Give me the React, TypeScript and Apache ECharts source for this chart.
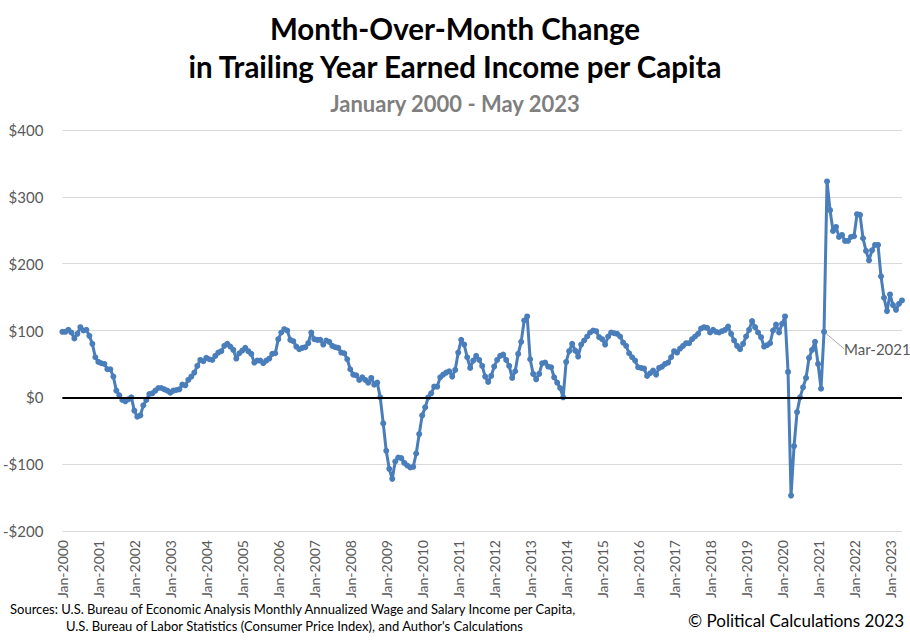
import React, { useEffect, useRef } from "react";
import * as echarts from "echarts";

const MONTHS = ["Jan", "Feb", "Mar", "Apr", "May", "Jun", "Jul", "Aug", "Sep", "Oct", "Nov", "Dec"];
const START_YEAR = 2000;

const v2000 = [98, 98, 101, 97, 88, 95, 105, 100, 101, 92, 80, 60];
const v2001 = [53, 51, 50, 42, 42, 31, 10, 3, -4, -6, -3, 0];
const v2002 = [-20, -29, -27, -12, -4, 5, 6, 10, 14, 14, 12, 10];
const v2003 = [7, 10, 11, 12, 19, 18, 26, 31, 37, 47, 56, 54];
const v2004 = [59, 57, 56, 62, 67, 69, 77, 80, 76, 71, 58, 66];
const v2005 = [70, 74, 69, 65, 52, 55, 55, 51, 55, 58, 65, 66];
const v2006 = [87, 97, 102, 100, 86, 84, 76, 72, 74, 75, 81, 97];
const v2007 = [87, 86, 86, 79, 85, 83, 77, 75, 74, 67, 66, 57];
const v2008 = [42, 34, 33, 26, 30, 26, 22, 29, 19, 22, 0, -39];
const v2009 = [-80, -107, -122, -96, -90, -91, -98, -102, -105, -104, -84, -55];
const v2010 = [-27, -15, 0, 6, 16, 16, 30, 34, 37, 39, 31, 41];
const v2011 = [67, 86, 79, 60, 44, 55, 62, 56, 47, 31, 23, 32];
const v2012 = [46, 56, 62, 64, 56, 47, 29, 39, 65, 83, 115, 121];
const v2013 = [57, 35, 27, 35, 51, 52, 46, 45, 30, 22, 14, 0];
const v2014 = [53, 69, 80, 70, 61, 79, 85, 91, 97, 100, 99, 90];
const v2015 = [87, 79, 91, 97, 96, 95, 91, 82, 77, 66, 60, 55];
const v2016 = [45, 44, 43, 32, 36, 40, 34, 44, 46, 50, 52, 60];
const v2017 = [69, 67, 73, 77, 81, 81, 87, 91, 95, 103, 105, 104];
const v2018 = [97, 101, 98, 97, 99, 101, 106, 95, 85, 77, 72, 80];
const v2019 = [91, 101, 114, 105, 97, 90, 76, 78, 81, 100, 109, 97];
const v2020 = [110, 121, 38, -147, -73, -22, 0, 15, 29, 59, 71, 83];
const v2021 = [50, 13, 98, 323, 280, 249, 255, 240, 243, 234, 234, 240];
const v2022 = [241, 274, 273, 238, 219, 205, 220, 228, 228, 181, 149, 129];
const v2023 = [154, 138, 131, 140, 145];

const VALUES: number[] = [
  ...v2000, ...v2001, ...v2002, ...v2003, ...v2004, ...v2005, ...v2006, ...v2007,
  ...v2008, ...v2009, ...v2010, ...v2011, ...v2012, ...v2013, ...v2014, ...v2015,
  ...v2016, ...v2017, ...v2018, ...v2019, ...v2020, ...v2021, ...v2022, ...v2023,
];

const CATEGORIES: string[] = VALUES.map((_, i) => `${MONTHS[i % 12]}-${START_YEAR + Math.floor(i / 12)}`);

const ANNOTATION = "Mar-2021";

const TITLE = "Month-Over-Month Change\nin Trailing Year Earned Income per Capita";
const SUBTITLE = "January 2000 - May 2023";
const SOURCE1 = "Sources: U.S. Bureau of Economic Analysis Monthly Annualized Wage and Salary Income per Capita,";
const SOURCE2 = "U.S. Bureau of Labor Statistics (Consumer Price Index), and Author's Calculations";
const COPYRIGHT = "© Political Calculations 2023";

const FONT = "Lato";
const BLUE = "#4a7ebb";

export default function App() {
  const ref = useRef<HTMLDivElement>(null);

  useEffect(() => {
    if (!ref.current) return;
    const chart = echarts.init(ref.current, null, { renderer: "svg" });
    const annotIndex = CATEGORIES.indexOf(ANNOTATION);

    const seriesData = VALUES.map((v, i) =>
      i === annotIndex
        ? {
            value: v,
            label: {
              show: true,
              formatter: ANNOTATION,
              position: "right",
              color: "#595959",
              fontSize: 15,
              fontFamily: FONT,
            },
            labelLine: { show: true, lineStyle: { color: "#a6a6a6", width: 1 } },
          }
        : v
    );

    chart.setOption({
      animation: false,
      backgroundColor: "#ffffff",
      textStyle: { fontFamily: FONT },
      title: [
        {
          text: TITLE,
          left: "center",
          top: 4,
          textStyle: { fontSize: 29.5, fontWeight: "bold", lineHeight: 38, color: "#000", fontFamily: FONT },
        },
        {
          text: SUBTITLE,
          left: "center",
          top: 87,
          textStyle: { fontSize: 22, fontWeight: "bold", color: "#7f7f7f", fontFamily: FONT },
        },
      ],
      grid: { left: 57, right: 8, top: 130, bottom: 109, containLabel: false },
      xAxis: {
        type: "category",
        data: CATEGORIES,
        boundaryGap: false,
        axisLine: { show: false, onZero: false },
        axisTick: { show: false },
        splitLine: { show: false },
        axisLabel: {
          interval: (i: number) => i % 12 === 0,
          rotate: 90,
          color: "#595959",
          fontSize: 14,
          margin: 9,
          fontFamily: FONT,
        },
      },
      yAxis: {
        type: "value",
        min: -200,
        max: 400,
        interval: 100,
        axisLine: { show: false },
        axisTick: { show: false },
        splitLine: { lineStyle: { color: "#d9d9d9", width: 1 } },
        axisLabel: {
          color: "#595959",
          fontSize: 15,
          margin: 19,
          fontFamily: FONT,
          formatter: (v: number) => (v < 0 ? `-$${-v}` : `$${v}`),
        },
      },
      series: [
        {
          type: "line",
          data: seriesData,
          symbol: "circle",
          symbolSize: 6,
          showSymbol: true,
          showAllSymbol: true,
          lineStyle: { color: BLUE, width: 3 },
          itemStyle: { color: BLUE },
          labelLayout: (params: any) =>
            params.dataIndex === annotIndex ? { dx: 12, dy: 17 } : {},
          markLine: {
            silent: true,
            symbol: "none",
            label: { show: false },
            lineStyle: { color: "#000", width: 2, type: "solid" },
            data: [{ yAxis: 0 }],
          },
          z: 3,
        },
      ],
      graphic: [
        {
          type: "text",
          left: 10,
          top: 602,
          style: { text: SOURCE1, fontSize: 13, fill: "#000", fontFamily: FONT },
        },
        {
          type: "text",
          left: 66,
          top: 619,
          style: { text: SOURCE2, fontSize: 13, fill: "#000", fontFamily: FONT },
        },
        {
          type: "text",
          right: 6,
          top: 612,
          style: { text: COPYRIGHT, fontSize: 17, fill: "#000", fontFamily: FONT },
        },
      ],
    });

    return () => chart.dispose();
  }, []);

  return (
    <div
      ref={ref}
      style={{ position: "fixed", left: 0, top: 0, width: 910, height: 640, background: "#fff" }}
    />
  );
}
